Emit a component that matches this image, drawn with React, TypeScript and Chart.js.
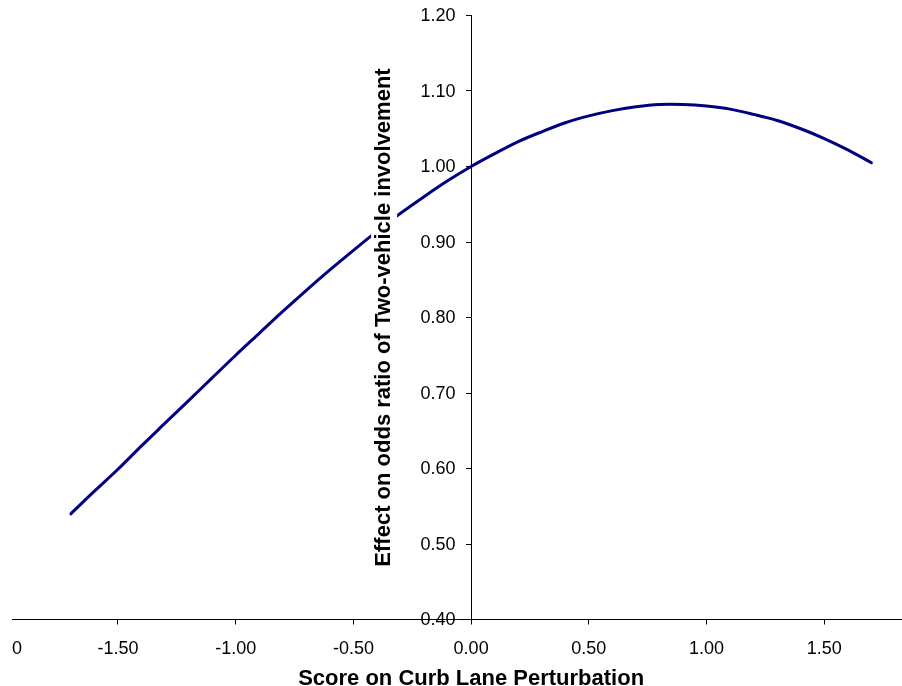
import React, { useEffect, useRef } from "react";
import { Chart, registerables } from "chart.js";

Chart.register(...registerables);

const scores = [
  -1.7, -1.6, -1.5, -1.4, -1.3, -1.2, -1.1, -1.0, -0.9, -0.8, -0.7, -0.6,
  -0.5, -0.4, -0.3, -0.2, -0.1, 0.0, 0.1, 0.2, 0.3, 0.4, 0.5, 0.6, 0.7, 0.8,
  0.9, 1.0, 1.1, 1.2, 1.3, 1.4, 1.5, 1.6, 1.7,
];
const oddsRatio = [
  0.540, 0.570, 0.599, 0.630, 0.660, 0.690, 0.720, 0.750, 0.779, 0.808,
  0.836, 0.863, 0.889, 0.914, 0.938, 0.960, 0.981, 1.000, 1.017, 1.033,
  1.046, 1.058, 1.067, 1.074, 1.079, 1.082, 1.082, 1.080, 1.076, 1.069,
  1.061, 1.050, 1.037, 1.022, 1.005,
];

const xMin = -1.95;
const xMax = 1.83;
const xTickValues = [-1.95, -1.5, -1.0, -0.5, 0.0, 0.5, 1.0, 1.5, 1.83];
const xTickLabels = ["0", "-1.50", "-1.00", "-0.50", "0.00", "0.50", "1.00", "1.50", ""];
const yTickValues = [0.4, 0.5, 0.6, 0.7, 0.8, 0.9, 1.0, 1.1, 1.2];
const yTickLabels = ["0.40", "0.50", "0.60", "0.70", "0.80", "0.90", "1.00", "1.10", "1.20"];

const xTitle = "Score on Curb Lane Perturbation";
const yTitle = "Effect on odds ratio of Two-vehicle involvement";

const FONT = "'Liberation Sans', Arial, Helvetica, sans-serif";

const textPlugin = {
  id: "textPlugin",
  afterDraw(chart: any) {
    const { ctx, chartArea } = chart;
    const xs = chart.scales.x;
    const ys = chart.scales.y;
    const axisX = xs.getPixelForValue(0);

    ctx.save();
    // y tick labels
    ctx.font = `18px ${FONT}`;
    ctx.fillStyle = "#000000";
    ctx.textAlign = "right";
    ctx.textBaseline = "middle";
    yTickValues.forEach((v, i) => {
      ctx.fillText(yTickLabels[i], axisX - 15.5, ys.getPixelForValue(v) + 1);
    });

    // x title, centred on the vertical axis
    ctx.font = `bold 22px ${FONT}`;
    ctx.textAlign = "center";
    ctx.textBaseline = "middle";
    ctx.fillText(xTitle, axisX, 679);

    // y title with white backing box
    const cx = axisX - 87;
    const cy = (chartArea.top + chartArea.bottom) / 2;
    const w = ctx.measureText(yTitle).width;
    ctx.translate(cx, cy);
    ctx.rotate(-Math.PI / 2);
    ctx.fillStyle = "#ffffff";
    ctx.fillRect(-w / 2 - 4, -13, w + 8, 26);
    ctx.fillStyle = "#000000";
    ctx.fillText(yTitle, 0, 0);
    ctx.restore();
  },
};

export default function App() {
  const canvasRef = useRef<HTMLCanvasElement | null>(null);

  useEffect(() => {
    if (!canvasRef.current) return;
    const points = scores.map((s, i) => ({ x: s, y: oddsRatio[i] }));
    const chart = new Chart(canvasRef.current, {
      type: "line",
      data: {
        datasets: [
          {
            data: points,
            borderColor: "#000080",
            borderWidth: 3,
            pointRadius: 0,
            tension: 0.3,
            borderCapStyle: "round",
            fill: false,
          },
        ],
      },
      options: {
        animation: false,
        responsive: false,
        devicePixelRatio: 1,
        layout: { padding: { left: 12, right: 0, top: 15.5, bottom: 0 } },
        plugins: {
          legend: { display: false },
          tooltip: { enabled: false },
        },
        scales: {
          x: {
            type: "linear",
            position: "bottom",
            min: xMin,
            max: xMax,
            afterBuildTicks: (scale: any) => {
              scale.ticks = xTickValues.map((v) => ({ value: v }));
            },
            afterFit: (scale: any) => {
              scale.height = 66.5;
              scale.paddingLeft = 0;
              scale.paddingRight = 0;
              scale.paddingTop = 0;
              scale.paddingBottom = 0;
            },
            grid: {
              drawOnChartArea: false,
              drawTicks: true,
              tickLength: 5,
              tickColor: (c: any) =>
                c.index === 0 || c.index === xTickValues.length - 1 ? "rgba(0,0,0,0)" : "#000000",
            },
            border: { display: true, color: "#000000", width: 1 },
            ticks: {
              autoSkip: false,
              maxRotation: 0,
              minRotation: 0,
              align: "inner",
              padding: 13.5,
              color: "#000000",
              font: { family: FONT, size: 18 },
              callback: (_v: any, i: number) => xTickLabels[i],
            },
            title: { display: false },
          },
          y: {
            type: "linear",
            position: { x: 0 },
            min: 0.4,
            max: 1.2,
            afterBuildTicks: (scale: any) => {
              scale.ticks = yTickValues.map((v) => ({ value: v }));
            },
            afterFit: (scale: any) => {
              scale.paddingLeft = 0;
              scale.paddingRight = 0;
              scale.paddingTop = 0;
              scale.paddingBottom = 0;
            },
            grid: {
              drawOnChartArea: false,
              drawTicks: true,
              tickLength: 5,
              tickColor: "#000000",
            },
            border: { display: true, color: "#000000", width: 1 },
            ticks: {
              display: false,
              font: { family: FONT, size: 18 },
            },
          },
        },
      },
      plugins: [textPlugin],
    } as any);
    return () => chart.destroy();
  }, []);

  return (
    <div style={{ position: "fixed", left: 0, top: 0, width: 902, height: 686, background: "#fff" }}>
      <canvas ref={canvasRef} width={902} height={686} style={{ display: "block" }} />
    </div>
  );
}
